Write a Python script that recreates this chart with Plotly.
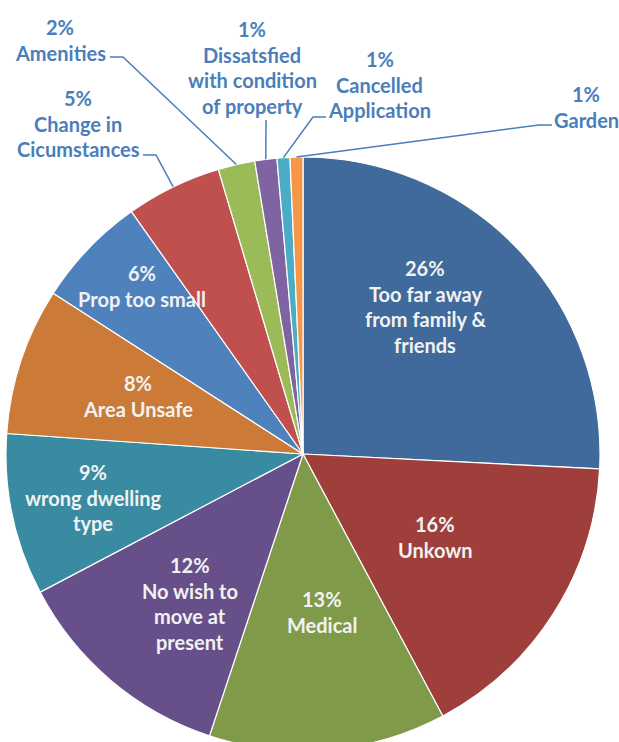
import math
import plotly.graph_objects as go

# ---------------- data ----------------
categories = [
    "Too far away from family & friends", "Unkown", "Medical",
    "No wish to move at present", "wrong dwelling type", "Area Unsafe",
    "Prop too small", "Change in Cicumstances", "Amenities",
    "Dissatsfied with condition of property", "Cancelled Application", "Garden",
]
values = [25.8, 16.4, 12.9, 12.2, 8.8, 8.0, 6.1, 5.2, 2.0, 1.2, 0.7, 0.7]
label_lines = [
    ["Too far away", "from family &", "friends"],
    ["Unkown"],
    ["Medical"],
    ["No wish to", "move at", "present"],
    ["wrong dwelling", "type"],
    ["Area Unsafe"],
    ["Prop too small"],
    ["Change in", "Cicumstances"],
    ["Amenities"],
    ["Dissatsfied", "with condition", "of property"],
    ["Cancelled", "Application"],
    ["Garden"],
]

# ---------------- styles / layout ----------------
colors = ["#3F6A9B", "#9E3F3C", "#7F9B49", "#67508A", "#398BA2", "#CB7B37",
          "#4F81BD", "#C0504D", "#9BBB59", "#8064A2", "#4BACC6", "#F79646"]
W, H = 619, 762
CX, CY, R = 303, 454, 297          # pie centre / radius in pixels
LINE_STEP = 25.6
FONT = "Lato"
FSIZE = 20
# first-line centre of each label (pixels) and whether it sits outside
label_pos = [(425, 268), (435, 524), (322, 599), (190, 565), (93, 472),
             (138, 383), (142, 273), (78, 98), (60, 27), (252, 29),
             (380, 59), (586, 94)]
outside = [False] * 7 + [True] * 5
leader_start = {7: [(143, 155), (156, 155)], 8: [(110, 57), (123, 57)],
                9: [(266, 120)], 10: [(326, 117), (313, 117)],
                11: [(552, 125), (539, 125)]}
outside_color = "#4A7EBB"
inside_color = "#F2F2F2"


def px(x):
    return x / W


def py(y):
    return 1 - y / H


fig = go.Figure(go.Pie(
    labels=categories, values=values, sort=False, direction="clockwise",
    rotation=0, textinfo="none", hoverinfo="label+percent",
    marker=dict(colors=colors, line=dict(color="white", width=1.2)),
    domain=dict(x=[px(CX - R), px(CX + R)], y=[py(CY + R), py(CY - R)]),
    showlegend=False,
))

total = sum(values)
cum = 0.0
annotations = []
shapes = []
for i, v in enumerate(values):
    mid = (cum + v / 2) / total * 2 * math.pi
    cum += v
    col = outside_color if outside[i] else inside_color
    lines = [f"{round(v / total * 100)}%"] + label_lines[i]
    lx, ly = label_pos[i]
    for k, t in enumerate(lines):
        annotations.append(dict(
            x=px(lx), y=py(ly + k * LINE_STEP), xref="paper", yref="paper",
            text=t, showarrow=False, xanchor="center", yanchor="middle",
            font=dict(family=FONT, size=FSIZE, color=col, weight="bold"),
        ))
    if i in leader_start:
        ex = CX + R * math.sin(mid)
        ey = CY - R * math.cos(mid)
        pts = leader_start[i] + [(ex, ey)]
        path = "M " + " L ".join(f"{px(a):.5f},{py(b):.5f}" for a, b in pts)
        shapes.append(dict(type="path", path=path, xref="paper", yref="paper",
                           line=dict(color=outside_color, width=1.5)))

fig.update_layout(
    width=W, height=H, margin=dict(l=0, r=0, t=0, b=0),
    paper_bgcolor="white", plot_bgcolor="white",
    annotations=annotations, shapes=shapes,
)

fig.write_html(
    "out.html",
    config={"displayModeBar": False},
    post_script="document.body.style.margin='0';document.body.style.overflow='hidden';",
)
